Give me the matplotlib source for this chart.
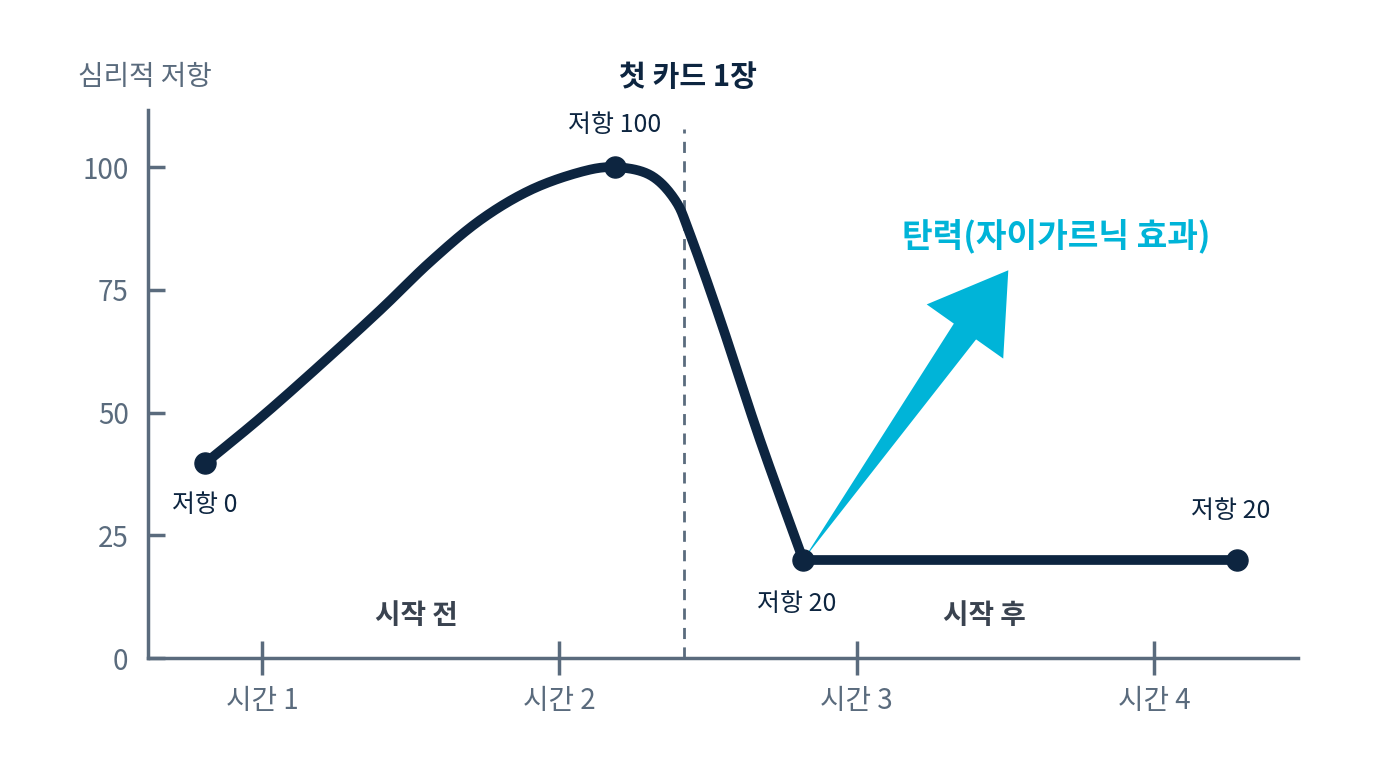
import matplotlib
matplotlib.use("Agg")
import matplotlib.pyplot as plt
import numpy as np

plt.rcParams['font.family'] = ['Noto Sans CJK KR', 'DejaVu Sans']

curve_x = [0.808, 0.993, 1.195, 1.397, 1.565, 1.733, 1.901, 2.070, 2.187, 2.305, 2.389, 2.440, 2.541, 2.675, 2.820, 4.28]
curve_y = [39.7, 48.9, 59.7, 70.9, 80.7, 89.2, 95.3, 99.0, 100, 98.4, 93.3, 86.2, 68.9, 44.4, 20, 20]
pts_x = [0.808, 2.187, 2.820, 4.28]
pts_y = [39.7, 100, 20, 20]
pt_labels = ["저항 0", "저항 100", "저항 20", "저항 20"]
xticks = [1, 2, 3, 4]
xlabels = ["시간 1", "시간 2", "시간 3", "시간 4"]
yticks = [0, 25, 50, 75, 100]
divider_x = 2.42
arrow_start = (2.82, 20)
arrow_end = (3.51, 79)

NAVY = "#0d2540"; CYAN = "#00b4d8"; GRAY = "#5a6b7d"

def catmull(xs, ys, n=20):
    P = np.column_stack([xs, ys]).astype(float)
    P = np.vstack([P[0], P, P[-1]])
    out = []
    for i in range(1, len(P) - 2):
        p0, p1, p2, p3 = P[i-1], P[i], P[i+1], P[i+2]
        for t in np.linspace(0, 1, n, endpoint=False):
            out.append(0.5 * ((2*p1) + (-p0+p2)*t + (2*p0-5*p1+4*p2-p3)*t**2 + (-p0+3*p1-3*p2+p3)*t**3))
    out.append(P[-2])
    out = np.array(out)
    return out[:, 0], out[:, 1]

fig = plt.figure(figsize=(13.76, 7.68), dpi=100)
ax = fig.add_axes([0.1076, 0.143, 0.8358, 0.7135])
ax.set_xlim(0.616, 4.485)
ax.set_ylim(0, 111.6)
for s in ["top", "right"]:
    ax.spines[s].set_visible(False)
for s in ["left", "bottom"]:
    ax.spines[s].set_color(GRAY); ax.spines[s].set_linewidth(2.5)
ax.set_xticks(xticks); ax.set_xticklabels(xlabels)
ax.set_yticks(yticks)
ax.tick_params(colors=GRAY, labelsize=20, width=2.5)
ax.tick_params(axis='y', direction='in', length=12, pad=14)
ax.tick_params(axis='x', direction='inout', length=24, pad=8)

ax.axvline(divider_x, ymax=0.965, color=GRAY, ls=(0, (4, 3)), lw=2)
# main curve: smooth part up to the bottom point, then straight line
sx, sy = catmull(curve_x[:-1], curve_y[:-1])
ax.plot(sx, sy, color=NAVY, lw=7, solid_joinstyle='round', solid_capstyle='round', zorder=3)
ax.plot(curve_x[-2:], curve_y[-2:], color=NAVY, lw=7, solid_capstyle='round', zorder=3)
ax.scatter(pts_x, pts_y, s=230, color=NAVY, zorder=4)
offs = [(0, -30), (0, 30), (-5, -32), (-5, 35)]
for x, y, t, o in zip(pts_x, pts_y, pt_labels, offs):
    ax.annotate(t, (x, y), xytext=o, textcoords='offset points', ha='center', va='center', fontsize=18, color=NAVY)

# tapered arrow: wedge narrow at start, wide near head, then head
ax.annotate("", xy=arrow_start, xytext=arrow_end,
            arrowprops=dict(arrowstyle="wedge,tail_width=0.7,shrink_factor=0.5",
                            color=CYAN, mutation_scale=30, lw=0, shrinkA=40, shrinkB=0), zorder=2)
ax.annotate("", xy=arrow_end, xytext=arrow_start,
            arrowprops=dict(arrowstyle="-|>,head_length=1.2,head_width=0.75",
                            color=CYAN, mutation_scale=45, lw=0, shrinkA=200, shrinkB=0), zorder=2)
ax.text(3.67, 86, "탄력(자이가르닉 효과)", color=CYAN, fontsize=24, fontweight='bold', ha='center', va='center')
ax.text(1.52, 8.5, "시작 전", color="#3a4350", fontsize=20, fontweight='bold', ha='center', va='center')
ax.text(3.43, 8.5, "시작 후", color="#3a4350", fontsize=20, fontweight='bold', ha='center', va='center')

fig.text(78/1376, 1-77/768, "심리적 저항", color=GRAY, fontsize=20, ha='left', va='center')
fig.text(688/1376, 1-77/768, "첫 카드 1장", color=NAVY, fontsize=21, fontweight='bold', ha='center', va='center')

fig.savefig("out.png", dpi=100, facecolor='white')
